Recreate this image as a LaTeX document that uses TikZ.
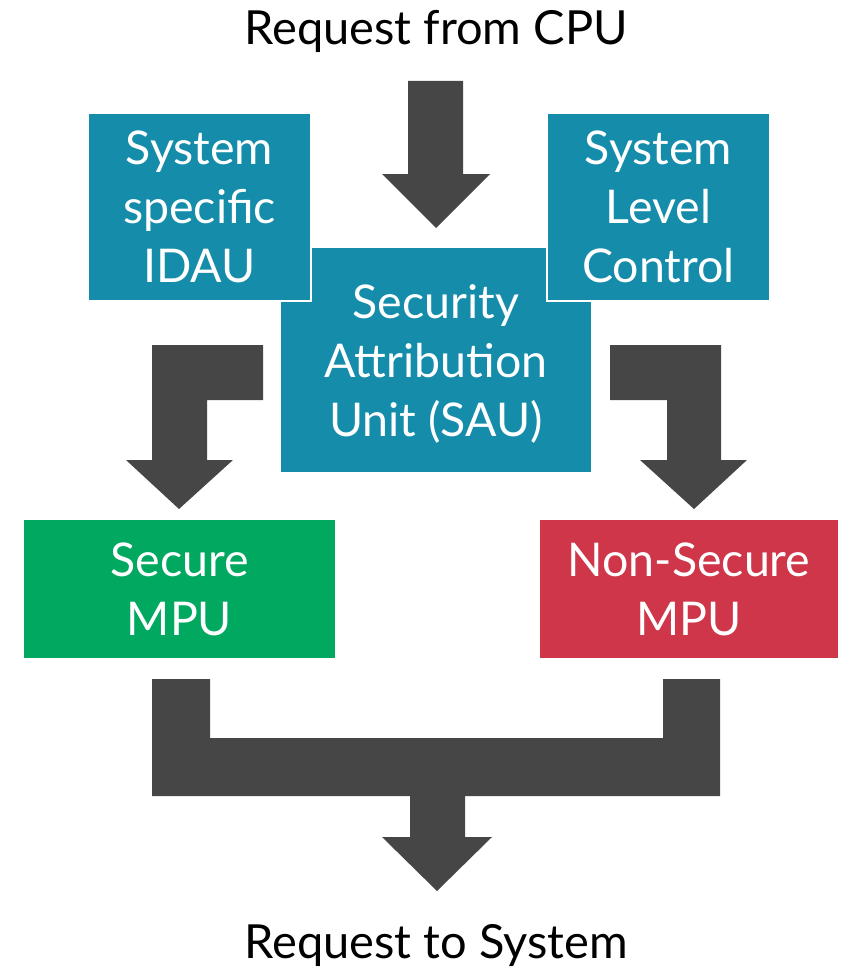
\documentclass[tikz,border=0pt]{standalone}
\usepackage{fontspec}
\setmainfont{Lato}
\definecolor{teal1}{RGB}{20,140,170}
\definecolor{green1}{RGB}{0,168,96}
\definecolor{red1}{RGB}{207,54,74}
\definecolor{gray1}{RGB}{70,70,70}
\begin{document}
\begin{tikzpicture}[x=1pt,y=-1pt,
  box/.style={rectangle,inner sep=0pt,text=white,align=center,
    font=\fontsize{46.5}{59}\selectfont},
  label/.style={inner sep=0pt,text=black,font=\fontsize{47}{59}\selectfont},
  blockarrow/.style={fill=gray1,draw=none}]
\useasboundingbox (0,0) rectangle (858,971);
% boxes
\node[box,fill=teal1,minimum width=310pt,minimum height=224pt] (sau) at (436,360) {\\[-18pt]Security\\Attribution\\Unit (SAU)};
\node[box,fill=teal1,draw=white,line width=2.5pt,minimum width=223pt,minimum height=188pt] (idau) at (199.5,207) {System\\specific\\IDAU};
\node[box,fill=teal1,draw=white,line width=2.5pt,minimum width=223pt,minimum height=188pt] (slc) at (658.5,207) {System\\Level\\Control};
\node[box,fill=green1,minimum width=311pt,minimum height=138pt] (smpu) at (179.5,589) {Secure\\MPU};
\node[box,fill=red1,minimum width=298pt,minimum height=138pt] (nsmpu) at (689,589) {Non-Secure\\MPU};
% labels
\node[label] (req) at (436,31) {Request from CPU};
\node[label] (out) at (436,945) {Request to System};
% block arrows
\fill[blockarrow] (408,81) -- (463,81) -- (463,174) -- (490,174) -- (436,228) -- (382,174) -- (408,174) -- cycle;
\fill[blockarrow] (263,345) -- (152,345) -- (152,460) -- (126,460) -- (179,509) -- (233,460) -- (207,460) -- (207,400) -- (263,400) -- cycle;
\fill[blockarrow] (610,345) -- (721,345) -- (721,460) -- (747,460) -- (694,509) -- (640,460) -- (667,460) -- (667,400) -- (610,400) -- cycle;
\fill[blockarrow] (152,679) -- (210,679) -- (210,738) -- (663,738) -- (663,679) -- (720,679) -- (720,796) -- (465,796) -- (465,837) -- (492,837) -- (437,891) -- (382,837) -- (410,837) -- (410,796) -- (152,796) -- cycle;
\end{tikzpicture}
\end{document}
